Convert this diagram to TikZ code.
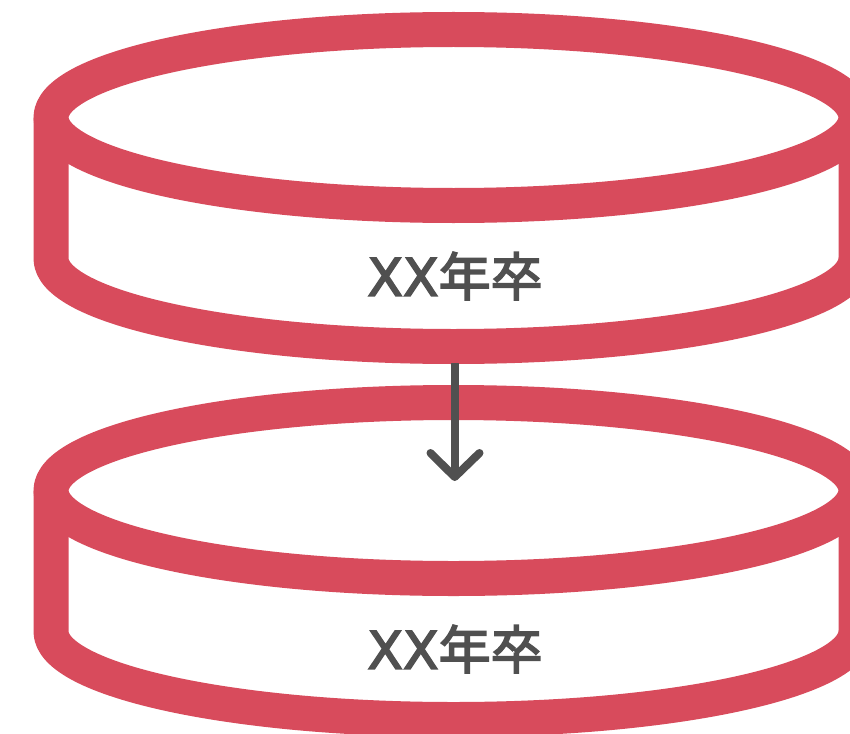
\documentclass[tikz,border=0pt]{standalone}
\usepackage{fontspec}
\newfontfamily\cjk{Noto Sans CJK JP}[FakeBold=3]
\newfontfamily\latn{DejaVu Sans}[FakeBold=3]
\definecolor{dbred}{HTML}{D84B5C}
\definecolor{dbgrey}{HTML}{505050}
\tikzset{
  dbline/.style={draw=dbred,line width=35pt,line join=round},
  dblabel/.style={text=dbgrey,inner sep=0pt,anchor=center},
  flow/.style={draw=dbgrey,line width=8pt,line cap=round,line join=round}
}
\newcommand{\dbcyl}[1]{%
  \begin{scope}[yshift=#1]
    \draw[dbline] (51,117.5) -- (51,258.5) arc[start angle=180,end angle=0,x radius=402.5,y radius=88] -- (856,117.5);
    \draw[dbline] (453.5,117.5) ellipse[x radius=402.5,y radius=88];
  \end{scope}}
\newcommand{\dbtext}{{\latn\fontsize{52}{52}\selectfont XX}{\cjk\fontsize{52}{52}\selectfont 年卒}}
\begin{document}
\begin{tikzpicture}[x=1pt,y=-1pt]
  \path[use as bounding box,fill=white] (0,0) rectangle (850,733);
  \begin{scope}
    \clip (0,0) rectangle (850,733);
    \dbcyl{0pt}
    \dbcyl{-373pt}
  \end{scope}
  \node[dblabel] (top) at (455,276) {\dbtext};
  \node[dblabel] (bottom) at (455,649) {\dbtext};
  \coordinate (from) at (454.7,363);
  \coordinate (to) at (454.7,477);
  \coordinate (hl) at (430.5,453);
  \coordinate (hr) at (479.5,453);
  \draw[flow,line cap=butt] (from) -- (to);
  \draw[flow] (hl) -- (to) -- (hr);
\end{tikzpicture}
\end{document}
